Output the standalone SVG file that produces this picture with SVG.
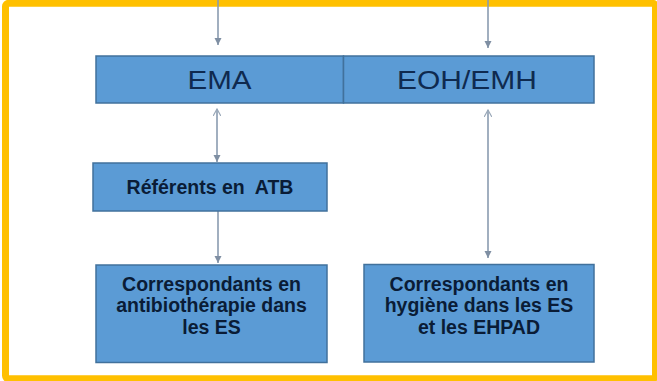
<svg xmlns="http://www.w3.org/2000/svg" width="657" height="381" viewBox="0 0 657 381">
<defs>
<style>
.box{fill:#5b9bd5;stroke:#41719c;stroke-width:1.5}
.big{font-family:"Liberation Sans",Arial,sans-serif;font-size:26px;fill:#0f2a4f;text-anchor:middle}
.lbl{font-family:"Liberation Sans",Arial,sans-serif;font-size:19.5px;font-weight:bold;fill:#0a1c36;text-anchor:middle}
.con{stroke:#8a9bb0;stroke-width:1.6;fill:none}
</style>
<marker id="ah" viewBox="0 0 10 10" refX="10" refY="5" markerWidth="4.5" markerHeight="4.5" orient="auto-start-reverse" markerUnits="strokeWidth">
<path d="M0,0 L10,5 L0,10 z" fill="#7f8fa3"/>
</marker>
<marker id="ao" viewBox="0 0 10 10" refX="9" refY="5" markerWidth="5" markerHeight="5" orient="auto-start-reverse" markerUnits="strokeWidth">
<path d="M0,0 L9,5 L0,10" fill="none" stroke="#9aa8b8" stroke-width="1.5"/>
</marker>
</defs>
<rect x="0" y="0" width="657" height="381" fill="#ffffff"/>
<rect x="5.5" y="3.3" width="650" height="375.5" rx="3" fill="#ffffff" stroke="#ffc000" stroke-width="7"/>
<g id="connectors">
<line class="con" x1="218" y1="0" x2="218" y2="45" marker-end="url(#ah)"/>
<line class="con" x1="488" y1="0" x2="488" y2="48" marker-end="url(#ah)"/>
<line class="con" x1="217" y1="109" x2="217" y2="162" marker-start="url(#ao)" marker-end="url(#ah)"/>
<line class="con" x1="218" y1="211" x2="218" y2="263" marker-end="url(#ah)"/>
<line class="con" x1="488" y1="110" x2="488" y2="258" marker-start="url(#ao)" marker-end="url(#ah)"/>
</g>
<g id="ema">
<rect class="box" x="96" y="56" width="247.5" height="47"/>
<text class="big" x="219.5" y="89" textLength="64" lengthAdjust="spacingAndGlyphs">EMA</text>
</g>
<g id="eoh">
<rect class="box" x="343.5" y="56" width="250.5" height="47"/>
<text class="big" x="467" y="89" textLength="140" lengthAdjust="spacingAndGlyphs">EOH/EMH</text>
</g>
<g id="referents">
<rect class="box" x="93" y="163" width="234" height="48"/>
<text class="lbl" x="210" y="193.5" xml:space="preserve">Référents en  ATB</text>
</g>
<g id="corr-atb">
<rect class="box" x="96" y="265" width="231" height="97.5"/>
<text class="lbl" x="211.5" y="290.5">Correspondants en</text>
<text class="lbl" x="211.5" y="312">antibiothérapie dans</text>
<text class="lbl" x="211.5" y="333.5">les ES</text>
</g>
<g id="corr-hyg">
<rect class="box" x="364" y="264.5" width="230" height="97.5"/>
<text class="lbl" x="479" y="290.5">Correspondants en</text>
<text class="lbl" x="479" y="312">hygiène dans les ES</text>
<text class="lbl" x="479" y="333.5">et les EHPAD</text>
</g>
</svg>
